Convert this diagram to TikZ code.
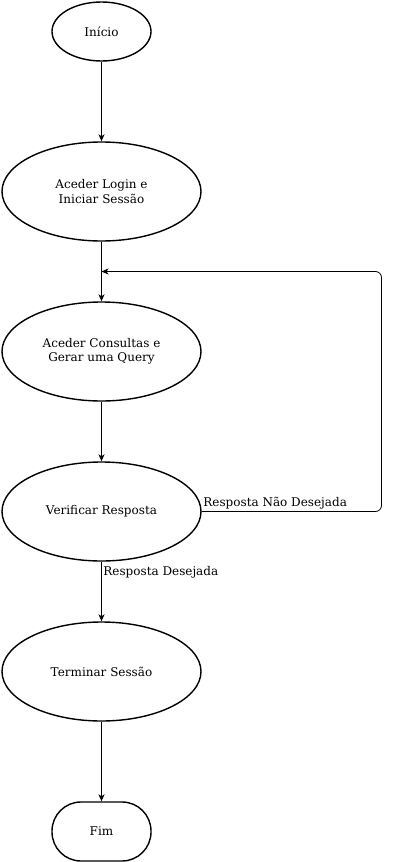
\documentclass[tikz,border=0pt]{standalone}
\usepackage{fontspec}
\setmainfont{DejaVu Serif}
\usetikzlibrary{shapes.geometric,arrows.meta}
\begin{document}
\begin{tikzpicture}[x=1pt,y=-1pt,
  every node/.style={font=\fontsize{12}{14.5}\selectfont},
  stepell/.style={ellipse,draw,line width=1.4pt,inner sep=0pt,align=center},
  stadium/.style={rectangle,draw,line width=1.4pt,rounded corners=29pt,inner sep=0pt,minimum width=99pt,minimum height=59pt},
  conn/.style={draw,line width=0.8pt,-{Stealth[length=7pt,width=6pt,inset=2pt]}},
  lbl/.style={inner sep=1.5pt,font=\fontsize{12}{14}\selectfont}]
\useasboundingbox (0,0) rectangle (412,862);
\node[stepell,minimum width=99pt,minimum height=59pt] (ini) at (101.5,31.5) {Início};
\node[stepell,minimum width=199pt,minimum height=99pt] (log) at (101.5,191.5) {Aceder Login e\\Iniciar Sessão};
\node[stepell,minimum width=199pt,minimum height=99pt] (con) at (101.5,351.5) {Aceder Consultas e\\Gerar uma Query};
\node[stepell,minimum width=199pt,minimum height=99pt] (ver) at (101.5,511.5) {Verificar Resposta};
\node[stepell,minimum width=199pt,minimum height=99pt] (ter) at (101.5,671.5) {Terminar Sessão};
\node[stadium] (fim) at (101.5,831.5) {Fim};
\coordinate (loopin) at (101.5,271.5);
\draw[conn] (ini) -- (log);
\draw[conn] (log) -- (con);
\draw[conn] (con) -- (ver);
\draw[conn] (ver) -- node[lbl,anchor=north west,pos=0.0,yshift=-3pt] {Resposta Desejada} (ter);
\draw[conn] (ter) -- (fim);
\draw[conn,rounded corners=6pt] (ver.east) -- (381.5,511.5) -- (381.5,271.5) -- (loopin);
\node[lbl,anchor=south west,yshift=0.5pt] at (ver.east) {Resposta Não Desejada};
\end{tikzpicture}
\end{document}
